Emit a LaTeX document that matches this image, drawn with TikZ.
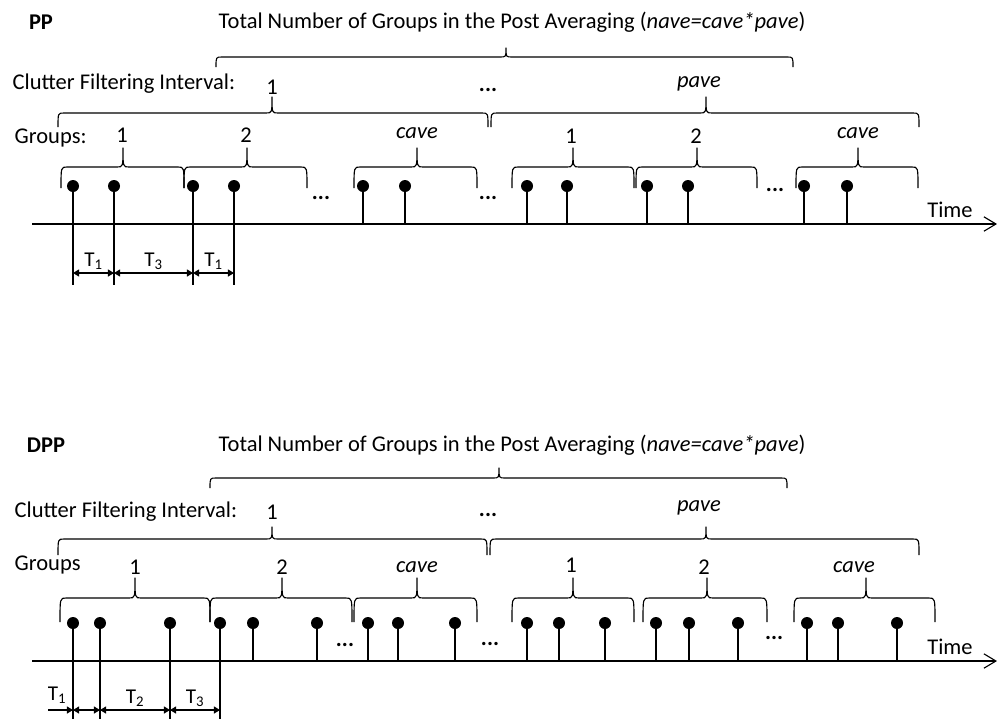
\documentclass[tikz,border=0pt]{standalone}
\usepackage{fontspec}
\setmainfont{Carlito}
\usetikzlibrary{arrows.meta}
\tikzset{
  dot/.style={circle,fill=black,inner sep=0pt,minimum size=0.3cm},
  stem/.style={line width=0.9pt},
  brc/.style={line width=0.8pt,line join=round},
  axis/.style={line width=0.8pt,-{Straight Barb[length=3mm,width=3.6mm]}},
  dim/.style={line width=0.8pt,<->,>={Triangle[length=4.3pt,width=5pt]}},
  dimr/.style={line width=0.8pt,->,>={Triangle[length=4.3pt,width=5pt]}},
  lbl/.style={font=\fontsize{16}{19}\selectfont,inner sep=1pt},
  ilbl/.style={font=\fontsize{16}{19}\selectfont\itshape,inner sep=1pt},
  blbl/.style={font=\fontsize{16}{19}\selectfont\bfseries,inner sep=1pt},
  tlbl/.style={font=\fontsize{15}{17}\selectfont,inner sep=1pt},
}
% x1, x2, tip, y of ends, y of line, y of tip
\newcommand{\wbrace}[6]{%
  \draw[brc] (#1,#4) .. controls (#1,#5) .. (#1+6,#5) -- (#3-6,#5)
    .. controls (#3,#5) .. (#3,#6) .. controls (#3,#5) .. (#3+6,#5)
    -- (#2-6,#5) .. controls (#2,#5) .. (#2,#4);}

\begin{document}
\begin{tikzpicture}[x=0.025cm,y=-0.025cm]
\useasboundingbox (0,0) rectangle (997,719);

% PP
\node[blbl] (ppname) at (41,22) {PP};
\node[lbl] (pptitle) at (512,22) {Total Number of Groups in the Post Averaging (\textit{nave=cave*pave})};
\wbrace{216}{793}{506}{67}{57}{48}
\node[lbl,anchor=west] (ppcfi) at (11,84) {Clutter Filtering Interval:};
\node[lbl] (ppcone) at (272,87) {1};
\node[lbl] (ppcdots) at (488,90) {\textbf{...}};
\node[ilbl] (ppcpave) at (699,84) {pave};
\wbrace{58}{488}{272}{127}{113}{97}
\wbrace{491}{919}{706}{127}{113}{97}
\node[lbl,anchor=west] (ppgrp) at (13,138) {Groups:};
\node[lbl] (ppgone) at (122,135) {1};
\node[lbl] (ppgtwo) at (246,135) {2};
\node[ilbl] (ppgcave) at (417,133) {cave};
\node[lbl] (ppgonep) at (571,136) {1};
\node[lbl] (ppgtwop) at (696,136) {2};
\node[ilbl] (ppgcavep) at (858,133) {cave};
\foreach \a/\b/\t in {61/184/123,184/307/247,354/477/417,512/634/573,636/757/697,796/918/858}
  \wbrace{\a}{\b}{\t}{188}{167}{148};
\coordinate (ppaxs) at (32,224);
\coordinate (ppaxe) at (997,224);
\draw[axis] (ppaxs) -- (ppaxe);
\node[lbl] (pptime) at (950,210) {Time};
\foreach \x [count=\i] in {73,114,193,234,363,405,527,567,647,688,804,847}{
  \node[dot] (pp\i) at (\x,186) {};
  \draw[stem] (pp\i.center) -- (pp\i.center |- ppaxs);
}
\node[lbl] (ppdotsa) at (321,198) {\textbf{...}};
\node[lbl] (ppdotsb) at (488,198) {\textbf{...}};
\node[lbl] (ppdotsc) at (775,190) {\textbf{...}};
\coordinate (ppext) at (0,285);
\coordinate (ppdim) at (0,273);
\foreach \i in {1,...,4}
  \draw[stem] (pp\i.center |- ppaxs) -- (pp\i.center |- ppext);
\draw[dim] (pp1 |- ppdim) -- (pp2 |- ppdim) node[midway,above=1pt,tlbl]{T\textsubscript{1}};
\draw[dim] (pp2 |- ppdim) -- (pp3 |- ppdim) node[midway,above=1pt,tlbl]{T\textsubscript{3}};
\draw[dim] (pp3 |- ppdim) -- (pp4 |- ppdim) node[midway,above=1pt,tlbl]{T\textsubscript{1}};

% DPP
\node[blbl] (dppname) at (46,445) {DPP};
\node[lbl] (dpptitle) at (512,445) {Total Number of Groups in the Post Averaging (\textit{nave=cave*pave})};
\wbrace{210}{787}{499}{488}{478}{468}
\node[lbl,anchor=west] (dppcfi) at (13,512) {Clutter Filtering Interval:};
\node[lbl] (dppcone) at (272,512) {1};
\node[lbl] (dppcdots) at (488,515) {\textbf{...}};
\node[ilbl] (dppcpave) at (699,508) {pave};
\wbrace{58}{487}{272}{555}{539}{527}
\wbrace{490}{919}{706}{555}{539}{527}
\node[lbl,anchor=west] (dppgrp) at (13,565) {Groups};
\node[lbl] (dppgone) at (135,567) {1};
\node[lbl] (dppgtwo) at (282,567) {2};
\node[ilbl] (dppgcave) at (417,567) {cave};
\node[lbl] (dppgonep) at (571,565) {1};
\node[lbl] (dppgtwop) at (704,567) {2};
\node[ilbl] (dppgcavep) at (854,567) {cave};
\foreach \a/\b/\t in {60/210/135,210/352/282,354/477/417,512/634/573,643/767/707,794/935/866}
  \wbrace{\a}{\b}{\t}{622}{598}{578};
\coordinate (dppaxs) at (32,661);
\coordinate (dppaxe) at (997,661);
\draw[axis] (dppaxs) -- (dppaxe);
\node[lbl] (dpptime) at (950,647) {Time};
\foreach \x [count=\i] in {73,100,170,220,253,317,368,398,455,527,559,605,656,689,738,807,838,897}{
  \node[dot] (dpp\i) at (\x,623) {};
  \draw[stem] (dpp\i.center) -- (dpp\i.center |- dppaxs);
}
\node[lbl] (dppdotsa) at (345,645) {\textbf{...}};
\node[lbl] (dppdotsb) at (490,644) {\textbf{...}};
\node[lbl] (dppdotsc) at (774,638) {\textbf{...}};
\coordinate (dppext) at (0,719);
\coordinate (dppdim) at (0,710);
\coordinate (dppleft) at (48,710);
\foreach \i in {1,...,4}
  \draw[stem] (dpp\i.center |- dppaxs) -- (dpp\i.center |- dppext);
\draw[dimr] (dppleft) -- (dpp1 |- dppdim);
\node[tlbl] (dppta) at (57,695) {T\textsubscript{1}};
\draw[dim] (dpp1 |- dppdim) -- (dpp2 |- dppdim);
\draw[dim] (dpp2 |- dppdim) -- (dpp3 |- dppdim) node[midway,above=1pt,tlbl]{T\textsubscript{2}};
\draw[dim] (dpp3 |- dppdim) -- (dpp4 |- dppdim) node[midway,above=1pt,tlbl]{T\textsubscript{3}};
\end{tikzpicture}
\end{document}
